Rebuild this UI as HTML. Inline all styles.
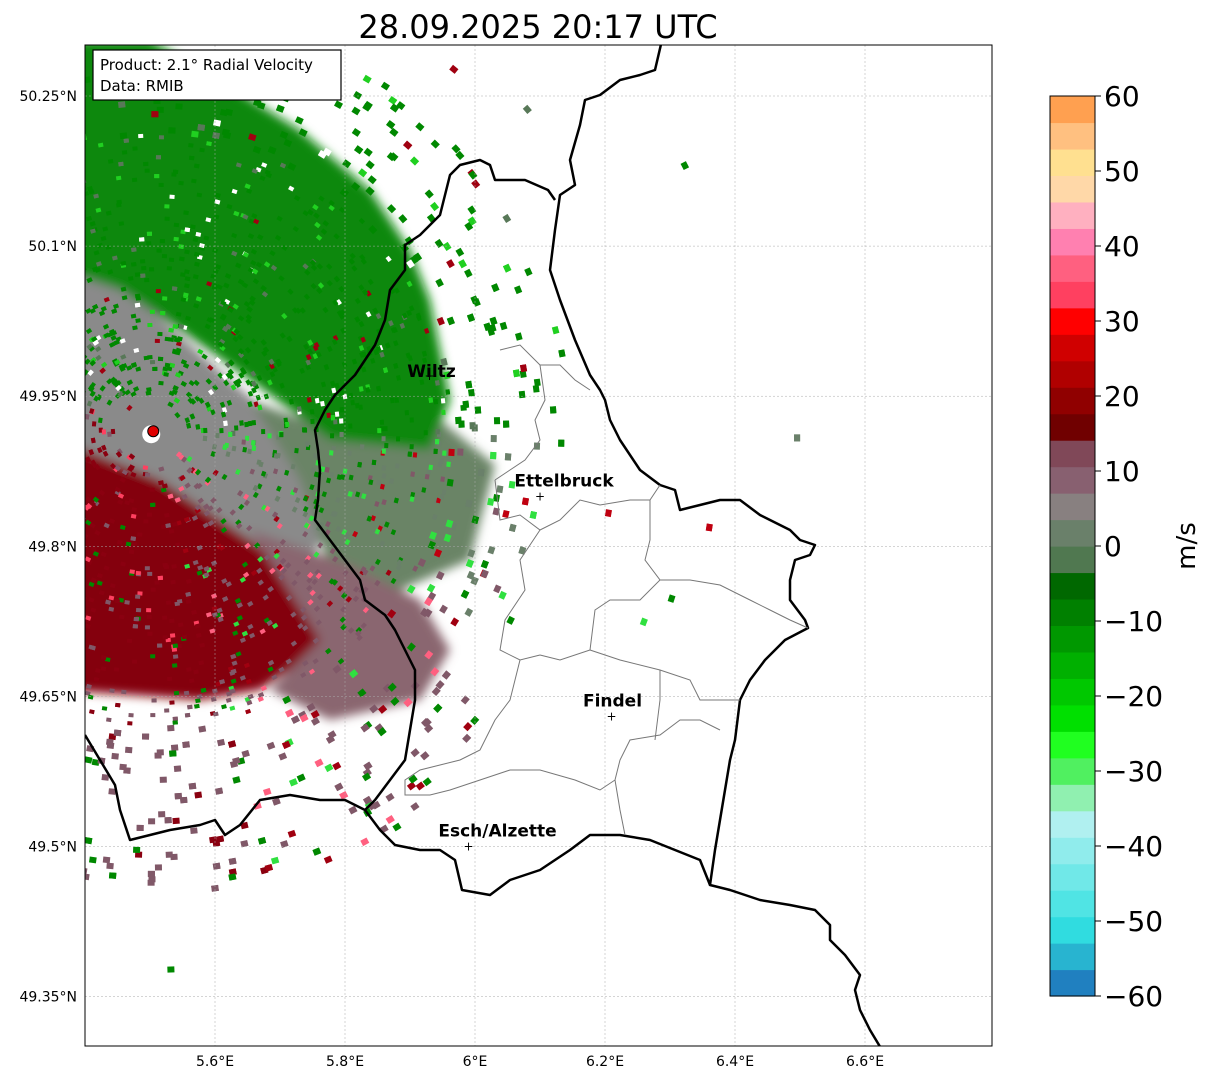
<!DOCTYPE html>
<html><head><meta charset="utf-8"><style>
body{margin:0;background:#fff;font-family:"Liberation Sans","DejaVu Sans",sans-serif}
svg{display:block}
text{font-family:"DejaVu Sans","Liberation Sans",sans-serif}
</style></head><body>
<svg id="chart" width="1207" height="1081" viewBox="0 0 1207 1081" xmlns="http://www.w3.org/2000/svg">
<defs>
<clipPath id="mapclip"><rect x="85" y="45" width="907" height="1001"/></clipPath>
<filter id="blur"><feGaussianBlur stdDeviation="5"/></filter>
</defs>
<text x="538" y="38" font-size="32" text-anchor="middle">28.09.2025 20:17 UTC</text>
<g id="map" clip-path="url(#mapclip)">
 <g id="dense" filter="url(#blur)"></g>
 <g id="speckle"></g>
 <g id="grid"></g>
 <g id="borders"></g>
</g>
<rect x="85" y="45" width="907" height="1001" fill="none" stroke="#000" stroke-width="1"/>
<g id="axes"></g>
<g>
<rect x="93" y="50" width="248" height="50" fill="#fff" stroke="#000" stroke-width="1.2"/>
<text x="100" y="70" font-size="15">Product: 2.1° Radial Velocity</text>
<text x="100" y="91" font-size="15">Data: RMIB</text>
</g>
<g id="colorbar"></g>
</svg>
<script>
const lonTicks=[5.6,5.8,6.0,6.2,6.4,6.6];
const lonLabels=["5.6°E","5.8°E","6°E","6.2°E","6.4°E","6.6°E"];
const latTicks=[50.25,50.1,49.95,49.8,49.65,49.5,49.35];
const latLabels=["50.25°N","50.1°N","49.95°N","49.8°N","49.65°N","49.5°N","49.35°N"];
const cbTicks=[60,50,40,30,20,10,0,-10,-20,-30,-40,-50,-60];
const cbLabels=["60","50","40","30","20","10","0","\u221210","\u221220","\u221230","\u221240","\u221250","\u221260"];
const cities=["Wiltz","Ettelbruck","Findel","Esch/Alzette"];
const cityLon=[5.93,6.10,6.21,5.99];
const cityLat=[49.97,49.85,49.63,49.50];
const radarLon=5.505, radarLat=49.915;
const cbColors=["#2080c0","#28b4d0","#30dce0","#50e4e4","#70e8e8","#90ecec","#b0f0f0","#90f0b0","#50f060","#20ff20","#00e000","#00c800","#00b000","#009800","#008000","#006800","#507850","#6a806a","#888080","#886070","#804858","#700000","#900000","#b00000","#d00000","#ff0000","#ff4060","#ff6080","#ff80b0","#ffb0c0","#ffd8a8","#ffe090","#ffc080","#ffa050"];
const NS="http://www.w3.org/2000/svg";
const X=lon=>85+(lon-5.4)*650, Y=lat=>96+(50.25-lat)*1000.7;
function el(tag,attrs,parent){const e=document.createElementNS(NS,tag);for(const k in attrs)e.setAttribute(k,attrs[k]);parent.appendChild(e);return e;}
const axes=document.getElementById('axes'),grid=document.getElementById('grid');
lonTicks.forEach((v,i)=>{const x=X(v);
 const g=el('line',{x1:x,x2:x,y1:45,y2:1046,stroke:'#aaa','stroke-width':0.5,'stroke-dasharray':'2,2'},grid);
 
 const t=el('text',{x:x,y:1066,'font-size':14,'text-anchor':'middle'},axes);t.textContent=lonLabels[i];
 });
latTicks.forEach((v,i)=>{const y=Y(v);
 const g=el('line',{x1:85,x2:992,y1:y,y2:y,stroke:'#aaa','stroke-width':0.5,'stroke-dasharray':'2,2'},grid);
 
 const t=el('text',{x:77,y:y+5,'font-size':14,'text-anchor':'end'},axes);t.textContent=latLabels[i];
 });
const dense=document.getElementById('dense');
[["#8a8a8a","60,190 140,300 230,380 300,440 320,540 300,600 200,560 60,470"],
 ["#6a8466","250,400 330,430 440,420 495,465 470,560 400,590 330,570 300,480"],
 ["#840010","60,440 160,480 250,540 330,600 320,650 260,690 200,700 130,695 60,690"],
 ["#8a6670","250,530 350,565 420,600 450,650 420,700 330,720 270,690 320,640"],
 ["#0a880a","60,40 150,40 220,80 300,130 370,190 410,250 430,300 440,350 450,400 430,450 330,440 250,380 180,330 120,290 60,270"]].forEach(d=>{
 const p=el('polygon',{points:d[1],fill:d[0]},dense);});
const sp=document.getElementById('speckle');
let s=12345;const rnd=()=>{s=(s*1103515245+12345)&0x7fffffff;return s/0x7fffffff;};
const rx=X(radarLon),ry=Y(radarLat);
for(let i=0;i<7000;i++){
 const ang=rnd()*Math.PI*2, r=30+Math.pow(rnd(),0.7)*620;
 const x=rx+Math.cos(ang)*r, y=ry+Math.sin(ang)*r;
 const a=ang*180/Math.PI;
 let maxR;
 if(a>200&&a<360) maxR=a>300?420:380; else if(a<90) maxR=a<40?400:470; else maxR=460;
 if(r>maxR && rnd()>0.02) continue;
 const far=r>300;
 if(far && rnd()<0.45) continue;
 let c;const q=rnd();
 if(a>=200||a<-5){c=q<0.7?"#008800":q<0.82?"#20d020":q<0.9?"#587858":q<0.95?"#a00010":"#ffffff";}
 else if(a<30){c=q<0.4?"#6a806a":q<0.65?"#008800":q<0.8?"#30e040":q<0.9?"#805868":"#c00010";}
 else if(a<75){c=q<0.55?"#805868":q<0.68?"#008800":q<0.8?"#a00010":q<0.9?"#30e040":"#ff6080";}
 else {c=r<260?(q<0.6?"#8a0010":q<0.75?"#ff4060":q<0.85?"#008800":"#805868"):(q<0.65?"#805868":q<0.82?"#8a0010":"#008800");}
 const w=far?7:5,h=far?6:4;
 el('rect',{x:x.toFixed(1),y:y.toFixed(1),width:w,height:h,fill:c,transform:`rotate(${(a+90).toFixed(0)} ${x.toFixed(1)} ${y.toFixed(1)})`},sp);
}
const B=document.getElementById('borders');
const thick=[
"662,40 655,70 640,75 620,80 600,95 585,100 580,125 570,160 575,185 560,195 555,230 550,270 560,300 575,340 590,375 600,390 605,400 610,420 620,440 640,470 660,485 675,490 680,510 700,505 720,500 740,500 760,515 770,520 790,530 800,540 815,545 810,555 795,560 790,580 790,600 805,620 808,628 785,640 765,660 750,680 740,700 735,740 730,760 725,790 720,820 715,850 710,885 730,890 760,900 790,905 815,910 830,925 830,940 845,955 860,975 855,990 860,1010 870,1030 882,1050",
"555,200 548,190 525,180 495,180 490,165 480,160 460,165 450,175 440,215 420,235 405,245 405,270 390,290 385,320 375,345 355,375 335,395 325,410 315,430 318,450 320,470 318,500 315,520 330,540 345,560 360,580 365,600 385,615 395,630 405,650 415,670 415,700 410,730 405,760 390,780 375,800 365,810 380,830 395,845 420,850 440,850 455,860 462,890 490,895 510,880 540,870 570,850 590,835 620,835 650,840 675,850 700,860 710,885",
"85,735 100,760 115,785 120,810 130,840 150,835 170,830 200,825 215,820 225,835 240,825 260,800 290,795 320,800 345,800 365,810"];
thick.forEach(p=>{const e=el('polyline',{points:p,fill:'none',stroke:'#000','stroke-width':2.5,'stroke-linejoin':'round'},B);});
const thin=[
"500,350 520,345 540,365 560,365 575,380 590,390",
"540,365 545,400 535,420 540,440 525,460 510,470 495,480",
"495,480 500,520 520,515 540,530 560,520 580,500 600,505 630,500 650,500 660,485",
"540,530 520,560 525,590 505,620 500,650 520,660 540,655",
"650,500 650,540 645,560 660,580 640,600 610,600 595,610 590,650 560,660 540,655",
"660,580 690,580 720,585 750,600 770,610 790,620 808,628",
"590,650 620,660 660,670 690,680 700,700 740,700",
"520,660 510,700 495,720 480,750 460,760 420,770 405,780 405,795 430,795 450,790 480,780 510,770 540,770 575,780 600,790 615,780 620,760 630,740 660,735 680,720 700,720 720,730",
"615,780 620,810 625,835",
"660,670 660,700 655,740"];
thin.forEach(p=>{const e=el('polyline',{points:p,fill:'none',stroke:'#777','stroke-width':1},B);});
const rc=el('circle',{cx:rx-2,cy:ry+3,r:9,fill:'#fff'},B);
const rd=el('circle',{cx:rx,cy:ry,r:5.5,fill:'#e00000',stroke:'#000','stroke-width':1},B);
const offX=[2,24,1,29], offY=[1,-10,-10,-10];
cities.forEach((n,i)=>{const x=X(cityLon[i]),y=Y(cityLat[i]);
 const m=el('text',{x:x,y:y+4,'font-size':12,'text-anchor':'middle'},B);m.textContent='+';
 
 const t=el('text',{x:x+offX[i],y:y+offY[i],'font-size':17,'font-weight':'bold','text-anchor':'middle'},B);
 t.textContent=n;});
const cb=document.getElementById('colorbar');
const cbTop=96,cbBot=996,n=cbColors.length,bh=(cbBot-cbTop)/n;
cbColors.forEach((c,i)=>{const r=el('rect',{x:1050,y:(cbBot-(i+1)*bh).toFixed(2),width:45,height:(bh+0.6).toFixed(2),fill:c},cb);
 });
el('rect',{x:1050,y:cbTop,width:45,height:cbBot-cbTop,fill:'none',stroke:'#000','stroke-width':1},cb);
const cbY=v=>cbBot-(v+60)/120*(cbBot-cbTop);
cbTicks.forEach((v,i)=>{const y=cbY(v);el('line',{x1:1095,x2:1101,y1:y,y2:y,stroke:'#000'},cb);
 const t=el('text',{x:1104,y:y+10,'font-size':28},cb);t.textContent=cbLabels[i];
 });
const u=el('text',{x:1195,y:546,'font-size':26,'text-anchor':'middle',transform:'rotate(-90 1195 546)'},cb);u.textContent='m/s';

</script>
</body></html>
